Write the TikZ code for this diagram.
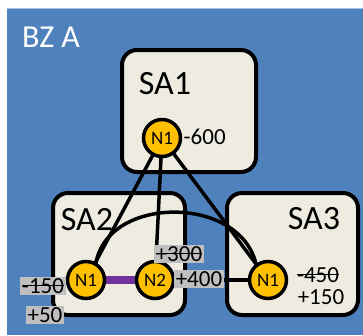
\documentclass[tikz,border=0pt]{standalone}
\usepackage{fontspec}
\setmainfont{Carlito}
\newsavebox\strkbox
\newcommand\strk[1]{\sbox\strkbox{#1}\rlap{\usebox\strkbox}\rule[0.32em]{\wd\strkbox}{1.3pt}}
\definecolor{bzblue}{HTML}{4F81BD}
\definecolor{bzline}{HTML}{A9BEDC}
\definecolor{boxfill}{HTML}{EEECE1}
\definecolor{nodeyel}{HTML}{FFC000}
\definecolor{linkpurple}{HTML}{7030A0}
\definecolor{labgrey}{HTML}{BFBFBF}
\tikzset{
  areabox/.style={draw=black, line width=4pt, fill=boxfill, rounded corners=15pt},
  areatitle/.style={font=\fontsize{34}{36}\selectfont, text=black, inner sep=0pt},
  busnode/.style={circle, draw=black, line width=3.5pt, fill=nodeyel, minimum size=37pt, inner sep=0pt, font=\fontsize{19}{21}\selectfont},
  conn/.style={draw=black, line width=3.5pt},
  numlab/.style={font=\fontsize{23}{25}\selectfont, inner sep=1.5pt, text=black},
  greylab/.style={numlab, fill=labgrey, inner sep=1.5pt}
}
\begin{document}
\begin{tikzpicture}[x=1pt, y=-1pt]
\useasboundingbox (0,0) rectangle (363,335);
\fill[bzblue] (7,8) rectangle (363,335);
\draw[bzline, line width=1pt] (7,8.5) -- (363,8.5);
\node[anchor=west, font=\fontsize{32}{34}\selectfont, text=white, inner sep=0pt] (bz) at (22,37) {BZ A};
% area boxes
\path[areabox] (122,50) rectangle (256,172);
\path[areabox] (53,193) rectangle (185,315);
\path[areabox] (227,193) rectangle (358,315);
\node[areatitle] (sa1) at (165,84) {SA1};
\node[areatitle] (sa2) at (87,220) {SA2};
\node[areatitle] (sa3) at (314,219) {SA3};
% bus coordinates
\coordinate (p11) at (162,138);
\coordinate (p21) at (86,280);
\coordinate (p22) at (155,280);
\coordinate (p31) at (268,280);
% connectors
\draw[conn] (p11) -- (p21);
\draw[conn] (p11) -- (p22);
\draw[conn] (p11) -- (p31);
\draw[conn] (p22) -- (p31);
\draw[conn] (96,263) .. controls (108,195) and (240,195) .. (256,264);
\draw[linkpurple, line width=8pt] (p21) -- (p22);
% buses
\node[busnode] (n11) at (p11) {N1};
\node[busnode] (n21) at (p21) {N1};
\node[busnode] (n22) at (p22) {N2};
\node[busnode] (n31) at (p31) {N1};
% labels
\node[numlab, anchor=west] (l600) at (182,137) {-600};
\node[greylab] (l150) at (43,286) {\strk{-150}};
\node[greylab] (l50) at (45,315) {+50};
\node[greylab] (l300) at (179,254) {\strk{+300}};
\node[greylab] (l400) at (199,279) {+400};
\node[numlab] (l450) at (318,275) {\strk{-450}};
\node[numlab] (l150b) at (321,297) {+150};
\end{tikzpicture}
\end{document}
